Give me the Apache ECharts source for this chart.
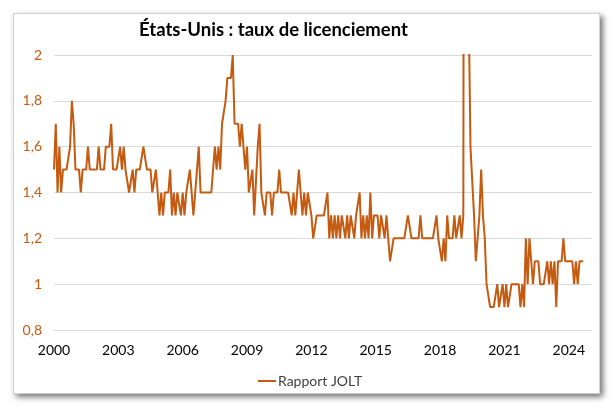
<!DOCTYPE html>
<html>
<head>
<meta charset="utf-8">
<script src="https://cdn.jsdelivr.net/npm/echarts@6/dist/echarts.min.js"></script>
<style>
  html, body { margin: 0; padding: 0; background: #fff; }
  #frame {
    position: absolute; left: 13px; top: 13px; width: 585px; height: 379px;
    border: 1px solid #d0d0d0; background: #fff;
    box-shadow: 3px 3px 6px rgba(0, 0, 0, 0.55);
  }
  #chart { position: absolute; left: 0; top: 0; width: 613px; height: 406px; }
</style>
</head>
<body>
<div id="frame"></div>
<div id="chart"></div>
<script>
// taux de licenciement mensuel (%), premier point = déc. 2000
const firstYear = 2000
const seriesName = 'Rapport JOLT'
const layoffRate = [
  1.5, 1.7, 1.4, 1.6, 1.4, 1.5, 1.5, 1.5, 1.5, 1.6,
  1.8, 1.7, 1.5, 1.5, 1.5, 1.4, 1.5, 1.5, 1.5, 1.6,
  1.5, 1.5, 1.5, 1.5, 1.5, 1.6, 1.5, 1.5, 1.5, 1.6,
  1.6, 1.6, 1.7, 1.5, 1.5, 1.5, 1.5, 1.6, 1.5, 1.6,
  1.5, 1.5, 1.4, 1.4, 1.5, 1.4, 1.5, 1.5, 1.5, 1.5,
  1.6, 1.6, 1.5, 1.5, 1.5, 1.4, 1.4, 1.5, 1.4, 1.3,
  1.4, 1.3, 1.4, 1.4, 1.4, 1.5, 1.3, 1.4, 1.3, 1.4,
  1.4, 1.3, 1.4, 1.3, 1.4, 1.4, 1.5, 1.4, 1.3, 1.4,
  1.5, 1.6, 1.4, 1.4, 1.4, 1.4, 1.4, 1.4, 1.4, 1.4,
  1.6, 1.5, 1.6, 1.5, 1.7, 1.7, 1.8, 1.9, 1.9, 1.9,
  2.0, 1.7, 1.7, 1.7, 1.6, 1.7, 1.6, 1.5, 1.6, 1.4,
  1.4, 1.5, 1.3, 1.3, 1.6, 1.7, 1.4, 1.4, 1.3, 1.4,
  1.4, 1.4, 1.3, 1.4, 1.4, 1.4, 1.5, 1.4, 1.4, 1.4,
  1.4, 1.4, 1.4, 1.3, 1.4, 1.3, 1.4, 1.5, 1.4, 1.3,
  1.4, 1.3, 1.4, 1.4, 1.3, 1.2, 1.2, 1.3, 1.3, 1.3,
  1.3, 1.3, 1.3, 1.4, 1.2, 1.3, 1.2, 1.3, 1.2, 1.3,
  1.2, 1.3, 1.3, 1.2, 1.3, 1.2, 1.3, 1.3, 1.2, 1.3,
  1.3, 1.4, 1.2, 1.3, 1.2, 1.3, 1.2, 1.4, 1.2, 1.3,
  1.3, 1.3, 1.2, 1.3, 1.3, 1.2, 1.3, 1.2, 1.1, 1.1,
  1.2, 1.2, 1.2, 1.2, 1.2, 1.2, 1.2, 1.2, 1.3, 1.3,
  1.2, 1.2, 1.2, 1.2, 1.2, 1.3, 1.2, 1.2, 1.2, 1.2,
  1.2, 1.2, 1.2, 1.2, 1.3, 1.2, 1.2, 1.1, 1.2, 1.1,
  1.3, 1.2, 1.2, 1.2, 1.3, 1.2, 1.2, 1.3, 1.2, 1.3,
  7.4, 5.9, 2.2, 1.6, 1.6, 1.3, 1.1, 1.1, 1.3, 1.5,
  1.3, 1.2, 1.0, 1.0, 0.9, 0.9, 0.9, 0.9, 1.0, 0.9,
  0.9, 1.0, 0.9, 1.0, 0.9, 0.9, 1.0, 1.0, 1.0, 1.0,
  1.0, 0.9, 1.0, 0.9, 1.2, 1.0, 1.2, 1.1, 1.0, 1.1,
  1.1, 1.1, 1.0, 1.0, 1.0, 1.0, 1.1, 1.0, 1.1, 1.0,
  1.1, 0.9, 1.1, 1.1, 1.1, 1.2, 1.1, 1.1, 1.1, 1.1,
  1.1, 1.0, 1.1, 1.0, 1.1, 1.1, 1.1
]

const lineColor = '#C55A11'
const fontName = 'Lato'

const chart = echarts.init(document.getElementById('chart'))
chart.setOption({
  animation: false,
  textStyle: { fontFamily: fontName },
  title: {
    text: 'États-Unis : taux de licenciement',
    left: 134,
    top: 16,
    textStyle: {
      color: '#000',
      fontSize: 18.5,
      fontWeight: 'bold',
      fontFamily: fontName
    }
  },
  grid: {
    left: 54,
    right: 21,
    top: 55,
    bottom: 76
  },
  legend: {
    left: 253,
    top: 369,
    icon: 'rect',
    itemWidth: 18,
    itemHeight: 2,
    itemGap: 2,
    textStyle: { color: '#404040', fontSize: 14, fontFamily: fontName, padding: [0, 0, 0, -3] },
    data: [seriesName]
  },
  xAxis: {
    type: 'value',
    min: 0,
    max: 301,
    interval: 36,
    axisLine: { show: false },
    axisTick: { show: false },
    splitLine: { show: false },
    axisLabel: {
      showMaxLabel: false,
      color: '#000',
      fontSize: 14,
      margin: 13,
      formatter: v => String(firstYear + Math.floor(v / 12))
    }
  },
  yAxis: {
    type: 'value',
    min: 0.8,
    max: 2,
    interval: 0.2,
    axisLine: { show: false },
    axisTick: { show: false },
    splitLine: { lineStyle: { color: '#d9d9d9', width: 1 } },
    axisLabel: {
      color: lineColor,
      fontSize: 14,
      margin: 12,
      formatter: v => String(Math.round(v * 10) / 10).replace('.', ',')
    }
  },
  series: [{
    name: seriesName,
    type: 'line',
    symbol: 'none',
    clip: true,
    lineStyle: { color: lineColor, width: 2 },
    itemStyle: { color: lineColor },
    data: layoffRate.map((v, i) => [i, v])
  }]
})
</script>
</body>
</html>
